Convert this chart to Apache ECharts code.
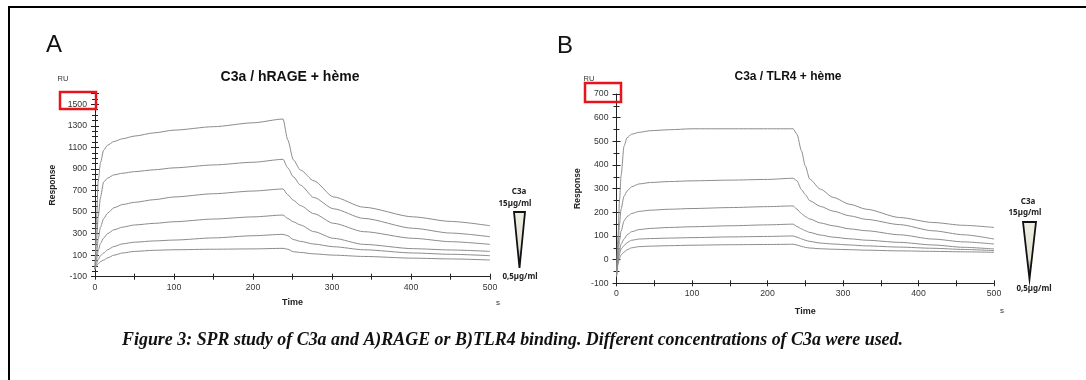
<!DOCTYPE html>
<html>
<head>
<meta charset="utf-8">
<script src="https://cdn.jsdelivr.net/npm/echarts/dist/echarts.min.js"></script>
<style>
html,body{margin:0;padding:0;background:#fff;}
#chart{width:1086px;height:380px;}
</style>
</head>
<body>
<div id="chart"></div>
<script>
// ---- Panel A: C3a / hRAGE + hème (time in s, response in RU) ----
const leftTime = [0, 2, 4, 7, 11, 16, 24, 35, 50, 75, 100, 150, 200, 238, 244, 251, 260, 277, 302, 340, 403, 450, 500];
const leftC1 = [-30, 450, 780, 960, 1075, 1120, 1155, 1180, 1205, 1235, 1260, 1292, 1328, 1363, 1170, 985, 890, 790, 640, 545, 455, 413, 373];
const leftC2 = [-30, 250, 450, 640, 780, 815, 845, 860, 875, 892, 910, 937, 962, 989, 910, 828, 750, 635, 530, 441, 349, 305, 271];
const leftC3 = [-30, 120, 250, 360, 440, 490, 540, 570, 590, 615, 640, 670, 695, 714, 660, 610, 560, 485, 395, 318, 256, 225, 200];
const leftC4 = [-30, 60, 140, 210, 260, 300, 335, 360, 380, 395, 410, 435, 455, 472, 440, 410, 380, 318, 256, 200, 160, 148, 135];
const leftC5 = [-30, 20, 60, 95, 120, 150, 180, 205, 220, 232, 240, 260, 280, 293, 280, 245, 228, 203, 178, 150, 120, 108, 95];
const leftC6 = [-30, 0, 20, 40, 55, 75, 100, 120, 135, 145, 150, 155, 158, 163, 155, 132, 125, 112, 100, 88, 72, 65, 55];

// ---- Panel B: C3a / TLR4 + hème ----
const rightTime = [0, 2, 4, 6, 10, 14, 20, 30, 45, 70, 100, 150, 200, 234, 239, 245, 250, 256, 270, 287, 309, 331, 375, 419, 460, 500];
const rightC1 = [-60, 100, 250, 354, 480, 515, 530, 538, 545, 549, 553, 553, 553, 553, 530, 460, 396, 340, 298, 263, 234, 213, 178, 157, 145, 136];
const rightC2 = [-70, 50, 150, 213, 268, 290, 308, 320, 326, 330, 333, 336, 339, 344, 333, 296, 275, 249, 225, 205, 185, 170, 148, 122, 105, 87];
const rightC3 = [-70, 20, 80, 120, 164, 182, 195, 204, 209, 213, 216, 220, 224, 227, 213, 195, 182, 172, 155, 143, 130, 122, 105, 87, 75, 66];
const rightC4 = [-70, 0, 40, 65, 87, 105, 118, 127, 132, 136, 139, 143, 147, 150, 140, 130, 122, 115, 104, 95, 88, 82, 73, 62, 52, 45];
const rightC5 = [-70, -10, 25, 45, 59, 72, 82, 87, 89, 91, 93, 96, 98, 100, 95, 88, 82, 77, 70, 66, 62, 58, 53, 48, 43, 38];
const rightC6 = [-70, -20, 5, 20, 31, 42, 50, 55, 57, 59, 61, 63, 64, 65, 62, 56, 52, 49, 46, 44, 42, 40, 37, 35, 33, 31];

const leftTicksY = [-100, 100, 300, 500, 700, 900, 1100, 1300, 1500];
const xTicks = [0, 100, 200, 300, 400, 500];

const titleA = 'C3a / hRAGE + hème';
const titleB = 'C3a / TLR4 + hème';
const caption = 'Figure 3: SPR study of C3a and A)RAGE or B)TLR4 binding. Different concentrations of C3a were used.';

const zip = (t, v) => t.map((x, i) => [x, v[i]]);
const lineColor = '#8c8c8c';
const axisColor = '#222';
const labelStyle = { color: '#333', fontSize: 8.7, fontFamily: 'Liberation Sans, Arial, sans-serif' };

function mkSeries(t, arr, xi, yi) {
  return arr.map(v => ({
    type: 'line', xAxisIndex: xi, yAxisIndex: yi, data: zip(t, v),
    showSymbol: false, smooth: 0.25, smoothMonotone: 'x', silent: true,
    lineStyle: { color: lineColor, width: 1 }, z: 2
  }));
}

function xAxes(grid, nameGap) {
  return [{
    gridIndex: grid, type: 'value', min: 0, max: 500, interval: 100,
    axisLine: { onZero: false, lineStyle: { color: axisColor, width: 1 } },
    axisTick: { length: 3, lineStyle: { color: axisColor } },
    minorTick: { show: true, splitNumber: 2, length: 3, lineStyle: { color: axisColor } },
    axisLabel: Object.assign({ margin: 6, formatter: v => xTicks.includes(v) ? String(v) : '' }, labelStyle),
    splitLine: { show: false },
    name: 'Time', nameLocation: 'middle', nameGap: nameGap,
    nameTextStyle: { fontWeight: 'bold', fontSize: 9, color: '#222', fontFamily: 'Liberation Sans, Arial, sans-serif' }
  }, {
    gridIndex: grid, type: 'value', min: 0, max: 500, interval: 100, position: 'bottom',
    axisLine: { show: false, onZero: false },
    axisTick: { inside: true, length: 3, lineStyle: { color: axisColor } },
    minorTick: { show: true, splitNumber: 2, length: 3, lineStyle: { color: axisColor } },
    axisLabel: { show: false }, splitLine: { show: false }
  }];
}

function yAxes(grid, min, max, interval, minorSplit, labelFn, nameGap) {
  const common = { gridIndex: grid, type: 'value', min: min, max: max, interval: interval, position: 'left' };
  return [Object.assign({}, common, {
    axisLine: { show: true, onZero: false, lineStyle: { color: axisColor, width: 1 } },
    axisTick: { length: 4, lineStyle: { color: axisColor } },
    minorTick: { show: true, splitNumber: minorSplit, length: 3, lineStyle: { color: axisColor } },
    axisLabel: Object.assign({ margin: 8, formatter: labelFn }, labelStyle),
    splitLine: { show: false },
    name: 'Response', nameLocation: 'middle', nameGap: nameGap, nameRotate: 90,
    nameTextStyle: { fontWeight: 'bold', fontSize: 8.5, color: '#222', fontFamily: 'Liberation Sans, Arial, sans-serif' }
  }), Object.assign({}, common, {
    axisLine: { show: false, onZero: false },
    axisTick: { inside: true, length: 4, lineStyle: { color: axisColor } },
    minorTick: { show: true, splitNumber: minorSplit, length: 3, lineStyle: { color: axisColor } },
    axisLabel: { show: false }, splitLine: { show: false }
  })];
}

const chart = echarts.init(document.getElementById('chart'), null, { renderer: 'canvas' });

// measure caption width to fit the reference span
const cv = document.createElement('canvas').getContext('2d');
cv.font = 'italic bold 19px "Liberation Serif"';
const capW = cv.measureText(caption).width;
const capScale = 781 / capW;

const sans = 'Liberation Sans, Arial, sans-serif';
const small = { fontSize: 8, fontWeight: 'bold', fontFamily: 'Noto Sans, sans-serif', fill: '#222', align: 'center', verticalAlign: 'middle' };

function triangle(cx, top, halfW, apex) {
  return {
    type: 'polygon', silent: true, z: 10,
    shape: { points: [[cx - halfW, top], [cx + halfW, top], [cx, apex]] },
    style: {
      fill: new echarts.graphic.LinearGradient(0, 0, 0, 1, [
        { offset: 0, color: '#efeee3' }, { offset: 0.65, color: '#e4e2d4' }, { offset: 1, color: '#444' }
      ]),
      stroke: '#111', lineWidth: 1.8, lineJoin: 'miter'
    }
  };
}

const option = {
  animation: false,
  backgroundColor: '#fff',
  title: [
    { text: titleA, left: 290, top: 70, padding: 0, textAlign: 'center', textStyle: { fontSize: 14, fontWeight: 'bold', color: '#111', fontFamily: sans } },
    { text: titleB, left: 788, top: 71, padding: 0, textAlign: 'center', textStyle: { fontSize: 12, fontWeight: 'bold', color: '#111', fontFamily: sans } }
  ],
  grid: [
    { left: 95, right: 596, top: 93.5, bottom: 103.3, containLabel: false },
    { left: 616.5, right: 92, top: 94, bottom: 96.7, containLabel: false }
  ],
  xAxis: [...xAxes(0, 21), ...xAxes(1, 24)],
  yAxis: [
    ...yAxes(0, -100, 1600, 200, 4, v => (leftTicksY.includes(v) ? String(v) : ''), 38),
    ...yAxes(1, -100, 700, 100, 2, v => String(v), 34)
  ],
  series: [
    ...mkSeries(leftTime, [leftC1, leftC2, leftC3, leftC4, leftC5, leftC6], 0, 0),
    ...mkSeries(rightTime, [rightC1, rightC2, rightC3, rightC4, rightC5, rightC6], 2, 2)
  ],
  graphic: [
    { type: 'rect', silent: true, shape: { x: 9, y: 7, width: 1200, height: 500 }, style: { fill: null, stroke: '#000', lineWidth: 2 } },
    { type: 'text', x: 46, y: 45, style: { text: 'A', fontSize: 24, fontFamily: sans, fill: '#111', verticalAlign: 'middle' } },
    { type: 'text', x: 557, y: 46, style: { text: 'B', fontSize: 24, fontFamily: sans, fill: '#111', verticalAlign: 'middle' } },
    { type: 'text', x: 63, y: 79, style: { text: 'RU', fontSize: 7.5, fontFamily: sans, fill: '#333', align: 'center', verticalAlign: 'middle' } },
    { type: 'text', x: 589, y: 79, style: { text: 'RU', fontSize: 7.5, fontFamily: sans, fill: '#333', align: 'center', verticalAlign: 'middle' } },
    { type: 'text', x: 498, y: 303, style: { text: 's', fontSize: 8, fontFamily: sans, fill: '#333', align: 'center', verticalAlign: 'middle' } },
    { type: 'text', x: 1002, y: 311, style: { text: 's', fontSize: 8, fontFamily: sans, fill: '#333', align: 'center', verticalAlign: 'middle' } },
    { type: 'rect', silent: true, z: 20, shape: { x: 60, y: 92, width: 36, height: 17 }, style: { fill: null, stroke: '#e8141c', lineWidth: 2.5 } },
    { type: 'rect', silent: true, z: 20, shape: { x: 585, y: 83, width: 36, height: 19 }, style: { fill: null, stroke: '#e8141c', lineWidth: 2.5 } },
    triangle(519.5, 212, 5.5, 268),
    triangle(1029.5, 222, 6.5, 279),
    { type: 'text', x: 519, y: 192, style: Object.assign({ text: 'C3a' }, small) },
    { type: 'text', x: 515, y: 204, style: Object.assign({ text: '15µg/ml' }, small) },
    { type: 'text', x: 520, y: 277, style: Object.assign({ text: '0,5µg/ml' }, small) },
    { type: 'text', x: 1028, y: 202, style: Object.assign({ text: 'C3a' }, small) },
    { type: 'text', x: 1025, y: 213, style: Object.assign({ text: '15µg/ml' }, small) },
    { type: 'text', x: 1034, y: 289, style: Object.assign({ text: '0,5µg/ml' }, small) },
    { type: 'text', x: 122, y: 340, scaleX: capScale, style: { text: caption, fontSize: 19, fontStyle: 'italic', fontWeight: 'bold', fontFamily: 'Liberation Serif, serif', fill: '#111', verticalAlign: 'middle' } }
  ]
};
chart.setOption(option);
</script>
</body>
</html>
